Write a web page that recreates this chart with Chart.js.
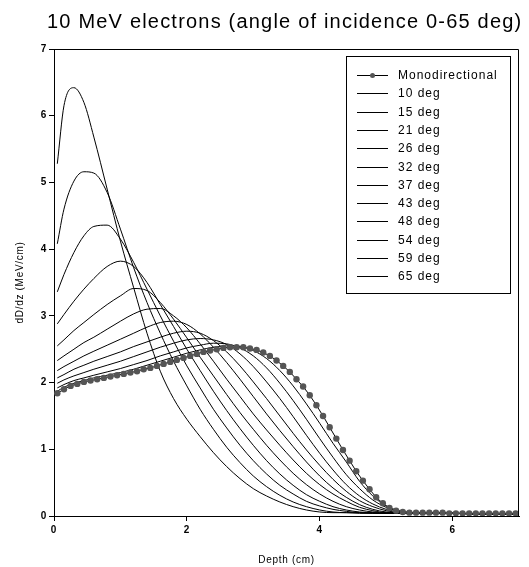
<!DOCTYPE html>
<html><head><meta charset="utf-8">
<script src="https://cdn.jsdelivr.net/npm/chart.js@4.4.0/dist/chart.umd.min.js"></script>
<style>html,body{margin:0;padding:0;background:#fff;overflow:hidden}</style>
</head><body>
<canvas id="c" width="529" height="567"></canvas>
<script>
const titleText = '10 MeV electrons (angle of incidence 0-65 deg)';
const xTitle = 'Depth (cm)';
const yTitle = 'dD/dz (MeV/cm)';
const xTicks = [0, 2, 4, 6];
const yTicks = [0, 1, 2, 3, 4, 5, 6, 7];
const monoLabel = 'Monodirectional';
const angleLabels = ['10 deg','15 deg','21 deg','26 deg','32 deg','37 deg','43 deg','48 deg','54 deg','59 deg','65 deg'];

const monoDepth = [0.05,0.15,0.25,0.35,0.45,0.55,0.65,0.75,0.85,0.95,
  1.05,1.15,1.25,1.35,1.45,1.55,1.65,1.75,1.85,1.95,
  2.05,2.15,2.25,2.35,2.45,2.55,2.65,2.75,2.85,2.95,
  3.05,3.15,3.25,3.35,3.45,3.55,3.65,3.75,3.85,3.95,
  4.05,4.15,4.25,4.35,4.45,4.55,4.65,4.75,4.85,4.95,
  5.05,5.15,5.25,5.35,5.45,5.55,5.65,5.75,5.85,5.95,
  6.05,6.15,6.25,6.35,6.45,6.55,6.65,6.75,6.85,6.95];
const monoDose = [1.84,1.90,1.95,1.98,2.01,2.03,2.05,2.07,2.09,2.11,
  2.13,2.15,2.17,2.20,2.22,2.25,2.28,2.31,2.34,2.37,
  2.40,2.43,2.46,2.48,2.50,2.52,2.53,2.53,2.53,2.51,
  2.49,2.45,2.40,2.33,2.25,2.16,2.05,1.94,1.81,1.66,
  1.50,1.33,1.16,0.99,0.83,0.67,0.53,0.40,0.28,0.19,
  0.12,0.08,0.06,0.05,0.05,0.05,0.05,0.05,0.05,0.04,
  0.04,0.04,0.04,0.04,0.04,0.04,0.04,0.04,0.04,0.04];

const depth = [0.05,0.15,0.3,0.45,0.6,0.8,1.0,1.2,1.4,1.6,1.8,2.0,2.2,2.4,2.6,2.8,3.0,3.2,3.4,3.6,3.8,4.0,4.2,4.4,4.6,4.8,5.0,5.2,5.4,5.7,6.0,6.5,7.0];
const dose10 = [1.87,1.93,1.99,2.03,2.07,2.11,2.15,2.20,2.26,2.32,2.38,2.44,2.49,2.53,2.55,2.54,2.48,2.36,2.18,1.95,1.68,1.39,1.09,0.81,0.52,0.30,0.15,0.08,0.05,0.04,0.04,0.03,0.03];
const dose15 = [1.92,1.97,2.03,2.07,2.11,2.16,2.21,2.27,2.33,2.40,2.46,2.52,2.56,2.59,2.58,2.52,2.40,2.22,1.99,1.73,1.45,1.16,0.88,0.62,0.41,0.24,0.13,0.07,0.05,0.04,0.04,0.03,0.03];
const dose21 = [1.99,2.04,2.10,2.15,2.20,2.26,2.32,2.39,2.46,2.53,2.59,2.64,2.66,2.64,2.57,2.43,2.24,2.01,1.76,1.49,1.21,0.94,0.69,0.47,0.30,0.18,0.10,0.06,0.05,0.04,0.04,0.03,0.03];
const dose26 = [2.07,2.12,2.20,2.26,2.32,2.39,2.46,2.54,2.61,2.68,2.74,2.77,2.74,2.63,2.46,2.25,2.01,1.76,1.50,1.24,0.99,0.76,0.55,0.37,0.23,0.14,0.08,0.05,0.04,0.04,0.04,0.03,0.03];
const dose32 = [2.18,2.24,2.32,2.40,2.47,2.56,2.65,2.74,2.83,2.90,2.92,2.87,2.73,2.53,2.30,2.05,1.79,1.53,1.28,1.04,0.81,0.60,0.42,0.28,0.17,0.10,0.06,0.05,0.04,0.04,0.04,0.03,0.03];
const dose37 = [2.33,2.40,2.50,2.60,2.68,2.80,2.92,3.03,3.10,3.11,3.00,2.82,2.58,2.32,2.05,1.79,1.53,1.29,1.06,0.84,0.64,0.47,0.33,0.22,0.13,0.08,0.05,0.05,0.04,0.04,0.04,0.03,0.03];
const dose43 = [2.55,2.64,2.78,2.90,3.02,3.17,3.30,3.41,3.38,3.20,2.95,2.67,2.38,2.10,1.82,1.55,1.30,1.06,0.84,0.64,0.47,0.33,0.22,0.14,0.09,0.06,0.05,0.04,0.04,0.04,0.04,0.03,0.03];
const dose48 = [2.88,3.02,3.22,3.40,3.56,3.74,3.82,3.74,3.50,3.17,2.84,2.50,2.18,1.87,1.58,1.31,1.06,0.83,0.63,0.46,0.32,0.22,0.14,0.09,0.06,0.05,0.04,0.04,0.04,0.04,0.04,0.03,0.03];
const dose54 = [3.36,3.62,3.95,4.20,4.34,4.36,4.15,3.80,3.40,3.00,2.62,2.25,1.92,1.60,1.32,1.06,0.83,0.63,0.46,0.33,0.22,0.15,0.10,0.07,0.05,0.05,0.04,0.04,0.04,0.04,0.04,0.03,0.03];
const dose59 = [4.08,4.60,5.02,5.16,5.14,4.85,4.30,3.72,3.20,2.74,2.32,1.95,1.60,1.30,1.03,0.80,0.60,0.44,0.31,0.21,0.14,0.09,0.06,0.05,0.05,0.04,0.04,0.04,0.04,0.04,0.04,0.03,0.03];
const dose65 = [5.28,6.15,6.42,6.20,5.68,4.90,4.12,3.42,2.74,2.17,1.76,1.45,1.19,0.95,0.74,0.56,0.41,0.30,0.21,0.14,0.09,0.06,0.05,0.05,0.04,0.04,0.04,0.04,0.04,0.04,0.04,0.03,0.03];
const angleDoses = [dose10,dose15,dose21,dose26,dose32,dose37,dose43,dose48,dose54,dose59,dose65];

const FONT = "'Liberation Sans', Arial, sans-serif";

const datasets = [{
  label: monoLabel,
  data: monoDepth.map((x, i) => ({x: x, y: monoDose[i]})),
  borderColor: '#000', borderWidth: 1,
  pointRadius: 3.2, pointBackgroundColor: '#555', pointBorderColor: '#555', pointBorderWidth: 0,
  tension: 0
}];
angleDoses.forEach((arr, k) => {
  datasets.push({
    label: angleLabels[k],
    data: depth.map((x, i) => ({x: x, y: arr[i]})),
    borderColor: '#000', borderWidth: 1, pointRadius: 0,
    cubicInterpolationMode: 'monotone'
  });
});

const decorPlugin = {
  id: 'decor',
  beforeDraw(chart) {
    chart.ctx.letterSpacing = '0.7px';
  },
  afterDraw(chart) {
    const ctx = chart.ctx, a = chart.chartArea;
    ctx.save();
    ctx.strokeStyle = '#000'; ctx.lineWidth = 1;
    ctx.beginPath();
    ctx.moveTo(Math.round(a.left) + 0.5, Math.round(a.top) + 0.5);
    ctx.lineTo(Math.round(a.right) - 0.5, Math.round(a.top) + 0.5);
    ctx.lineTo(Math.round(a.right) - 0.5, Math.round(a.bottom) + 0.5);
    ctx.stroke();
    // title
    ctx.letterSpacing = '1.2px';
    ctx.fillStyle = '#000';
    ctx.font = '20px ' + FONT;
    ctx.textAlign = 'left'; ctx.textBaseline = 'alphabetic';
    ctx.fillText(titleText, 47, 28);
    // legend
    const bx = 346.5, by = 56.5, bw = 164, bh = 237;
    ctx.strokeRect(bx, by, bw, bh);
    ctx.letterSpacing = '1px';
    ctx.font = '12px ' + FONT;
    ctx.textBaseline = 'middle';
    chart.data.datasets.forEach((ds, i) => {
      const y = Math.round(75 + i * 18.3) + 0.5;
      ctx.strokeStyle = '#000'; ctx.lineWidth = 1;
      ctx.beginPath(); ctx.moveTo(357, y); ctx.lineTo(388, y); ctx.stroke();
      if (ds.pointRadius > 0) {
        ctx.fillStyle = ds.pointBackgroundColor;
        ctx.beginPath(); ctx.arc(372.5, y, 2.5, 0, Math.PI * 2); ctx.fill();
      }
      ctx.fillStyle = '#000';
      ctx.fillText(ds.label, 398, y);
    });
    ctx.restore();
  }
};

new Chart(document.getElementById('c'), {
  type: 'line',
  data: {datasets: datasets},
  plugins: [decorPlugin],
  options: {
    responsive: false, animation: false, devicePixelRatio: 1,
    layout: {padding: {top: 49, right: 10, left: 0, bottom: 0}},
    plugins: {legend: {display: false}, tooltip: {enabled: false}, title: {display: false}},
    elements: {line: {fill: false}},
    scales: {
      x: {
        type: 'linear', min: 0, max: 7,
        afterBuildTicks: s => { s.ticks = xTicks.map(v => ({value: v})); },
        afterFit: s => { s.height = 51; },
        grid: {display: true, drawOnChartArea: false, drawTicks: true, tickLength: 5, color: '#000', lineWidth: 1},
        border: {display: true, color: '#000', width: 1},
        ticks: {color: '#000', font: {family: FONT, size: 10, weight: 'bold'}, padding: 3, maxRotation: 0},
        title: {display: true, text: xTitle, color: '#000', font: {family: FONT, size: 10}, padding: {top: 0, bottom: 1}}
      },
      y: {
        type: 'linear', min: 0, max: 7,
        afterBuildTicks: s => { s.ticks = yTicks.map(v => ({value: v})); },
        afterFit: s => { s.width = 54; },
        grid: {display: true, drawOnChartArea: false, drawTicks: true, tickLength: 5, color: '#000', lineWidth: 1},
        border: {display: true, color: '#000', width: 1},
        ticks: {color: '#000', font: {family: FONT, size: 10, weight: 'bold'}, padding: 2},
        title: {display: true, text: yTitle, color: '#000', font: {family: FONT, size: 10}, padding: {top: 14, bottom: 0}}
      }
    }
  }
});
</script>
</body></html>
